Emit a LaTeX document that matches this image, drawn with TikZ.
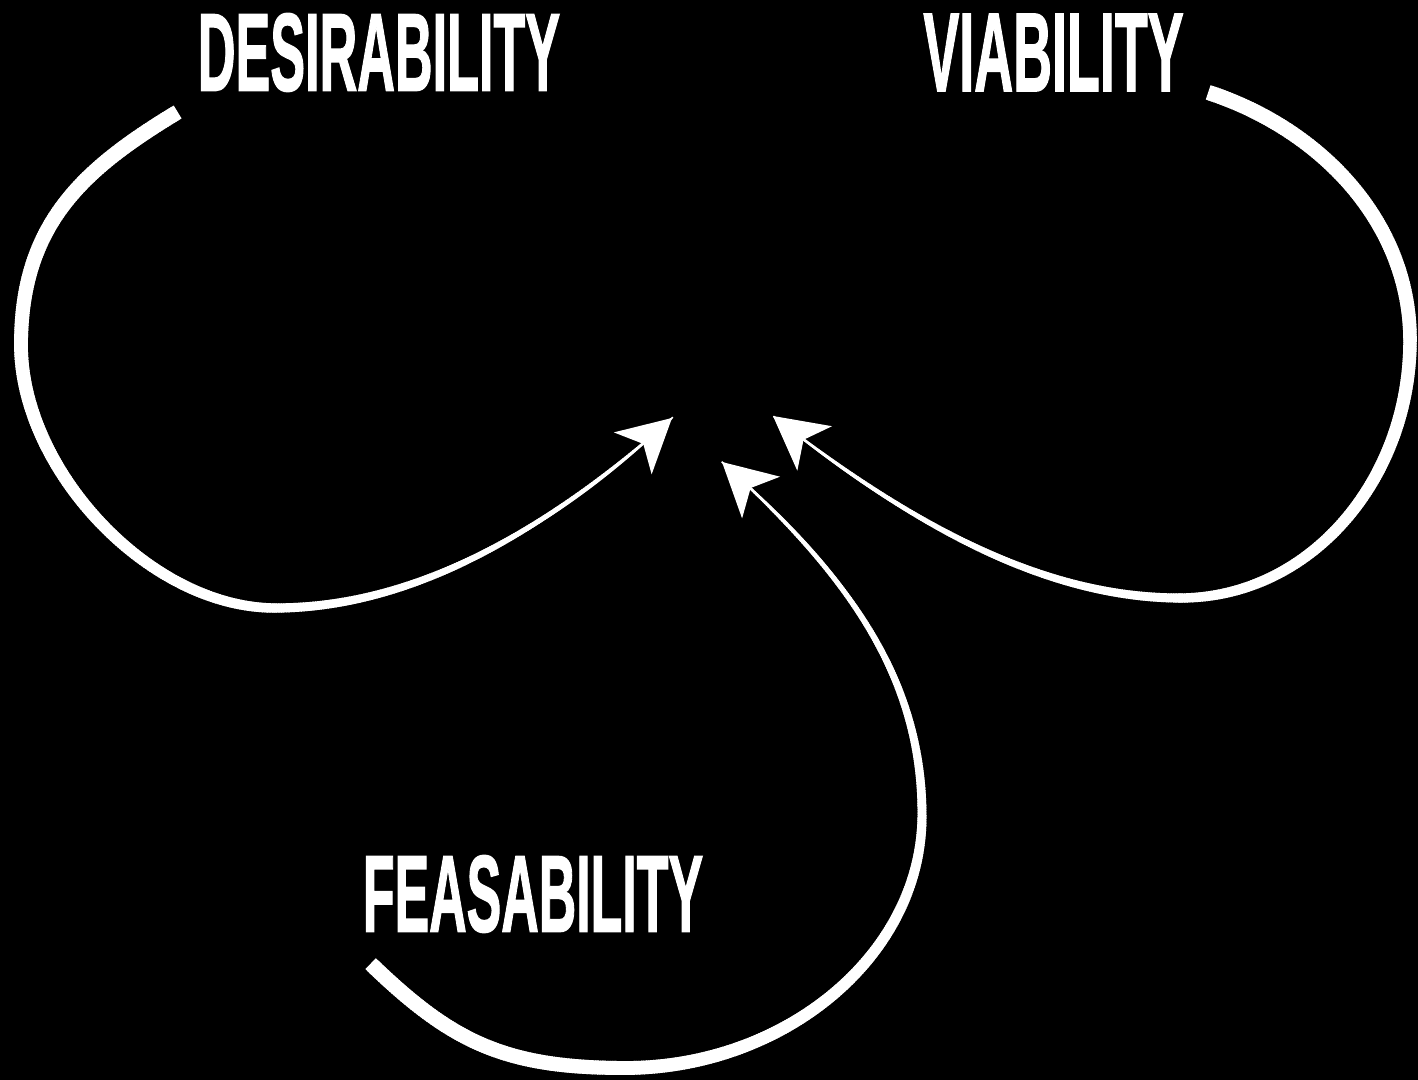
\documentclass[tikz,border=0pt]{standalone}
\usepackage{fontspec}
\usepackage{graphicx}
\usetikzlibrary{arrows.meta,decorations.markings}
\newfontfamily\gothic{Liberation Sans}[BoldFeatures={FakeBold=1.6}]

\tikzset{
    capword/.style={text=white, inner sep=0pt, font=\gothic\bfseries},
    % white stroke that thins from #1 (pt) at the tail to #2 (pt) at the head
    sweep/.style 2 args={
        postaction={decorate, decoration={markings,
            mark=between positions 0 and 1 step 0.7pt with {
                \pgfmathsetmacro\halfw{0.5*(#1-(#1-#2)*(\pgfkeysvalueof{/pgf/decoration/mark info/distance from start}/\pgfdecoratedpathlength)^1.7)}
                \fill[white] (-0.55pt,-\halfw pt) rectangle (0.55pt,\halfw pt);
            }}}
    },
    arrowline/.style={draw=white, line width=0.45pt, -{Stealth[length=15pt, width=16pt, inset=4pt]}},
}

\begin{document}
\begin{tikzpicture}[x=0.01cm, y=-0.01cm]
    \fill[black] (0,0) rectangle (1418,1080);
    \useasboundingbox (0,0) rectangle (1418,1080);

    \node[capword] (desire) at (379,52.5) {\resizebox{3.62cm}{0.77cm}{DESIRABILITY}};
    \node[capword] (viable) at (1053.5,52.5) {\resizebox{2.6cm}{0.77cm}{VIABILITY}};
    \node[capword] (feasible) at (533,894) {\resizebox{3.4cm}{0.76cm}{FEASABILITY}};

    \coordinate (desire-tail) at (176,113);
    \coordinate (desire-tip) at (672,418);
    \coordinate (viable-tail) at (1210,93);
    \coordinate (viable-tip) at (773,416);
    \coordinate (feasible-tail) at (372,965);
    \coordinate (feasible-tip) at (722,462);

    % the three loops meeting in the middle
    \draw[arrowline, sweep={4.3}{0.45}] (desire-tail)
        .. controls (82,170) and (21,225) .. (21,345)
        .. controls (21,470) and (150,608) .. (275,608)
        .. controls (425,608) and (561,518) .. (desire-tip);
    \draw[arrowline, sweep={4.3}{0.45}] (viable-tail)
        .. controls (1324,131) and (1410,225) .. (1410,340)
        .. controls (1410,480) and (1310,598) .. (1180,598)
        .. controls (1030,598) and (891,508) .. (viable-tip);
    \draw[arrowline, sweep={4.3}{0.45}] (feasible-tail)
        .. controls (452,1042) and (505,1068) .. (625,1068)
        .. controls (785,1068) and (922,955) .. (922,815)
        .. controls (922,665) and (833,563) .. (feasible-tip);
\end{tikzpicture}
\end{document}
